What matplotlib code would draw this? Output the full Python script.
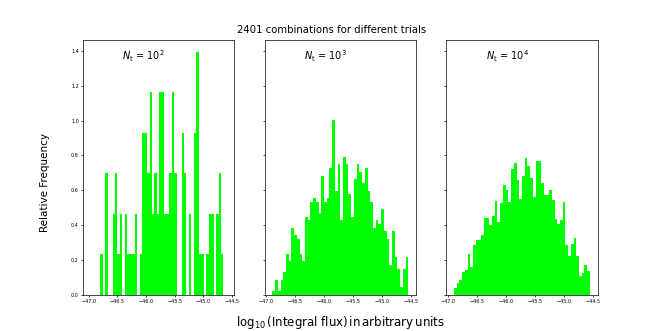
import numpy as np
import matplotlib.pyplot as plt

# bin counts, 50 bins per panel
counts_1e2 = [1, 0, 3, 0, 0, 2, 3, 1, 2, 0,
              2, 1, 1, 1, 2, 0, 1, 4, 4, 3,
              5, 2, 3, 2, 5, 5, 2, 2, 3, 5,
              3, 0, 0, 4, 3, 0, 2, 0, 4, 6,
              1, 1, 0, 1, 2, 2, 0, 2, 3, 1]
counts_1e3 = [1, 4, 1, 4, 6, 11, 9, 18, 16, 15,
              11, 9, 21, 20, 25, 26, 25, 22, 32, 25,
              26, 34, 47, 28, 35, 20, 37, 35, 27, 21,
              31, 35, 33, 30, 34, 28, 25, 18, 20, 19,
              23, 17, 15, 8, 17, 10, 7, 2, 7, 10]
counts_1e4 = [19, 30, 40, 60, 67, 110, 75, 134, 148, 148,
              159, 206, 206, 186, 212, 251, 195, 247, 295, 282,
              248, 339, 355, 307, 258, 318, 367, 345, 315, 263,
              359, 359, 299, 269, 269, 281, 254, 204, 191, 200,
              249, 134, 104, 137, 151, 103, 51, 59, 79, 63]

# data range of each sample (log10 flux)
ranges = [(-46.80, -44.65), (-46.892, -44.552), (-46.892, -44.552)]
xlims = [(-47.10, -44.46), (-47.025, -44.42), (-47.025, -44.42)]
labels = [r'$N_{\rm t}$ = $10^2$', r'$N_{\rm t}$ = $10^3$', r'$N_{\rm t}$ = $10^4$']
all_counts = [counts_1e2, counts_1e3, counts_1e4]

fig, axes = plt.subplots(1, 3, figsize=(6.64, 3.31), dpi=100, sharey=True)

for ax, counts, (lo, hi), xl, lab in zip(axes, all_counts, ranges, xlims, labels):
    edges = np.linspace(lo, hi, len(counts) + 1)
    centers = (edges[:-1] + edges[1:]) / 2
    ax.hist(centers, bins=edges, weights=counts, density=True, color='lime')
    ax.set_xlim(xl)
    ax.set_xticks(np.arange(-47.0, -44.49, 0.5))
    ax.text(0.26, 0.937, lab, transform=ax.transAxes, va='center', fontsize=7)
    ax.tick_params(labelsize=3.5, length=1.5, width=0.5, pad=1.5)
    for s in ax.spines.values():
        s.set_linewidth(0.5)

axes[0].set_yticks(np.arange(0, 1.41, 0.2))

fig.suptitle('2401 combinations for different trials', y=0.909, va='center', fontsize=7.3)
fig.text(0.068, 0.45, 'Relative Frequency', rotation=90, ha='center', va='center', fontsize=7.5)
fig.text(0.512, 0.027, r'$\log_{10}(\mathrm{Integral\ flux})\,\mathrm{in\,arbitrary\,units}$',
         ha='center', va='center', fontsize=8.5)

plt.savefig('out.png')
